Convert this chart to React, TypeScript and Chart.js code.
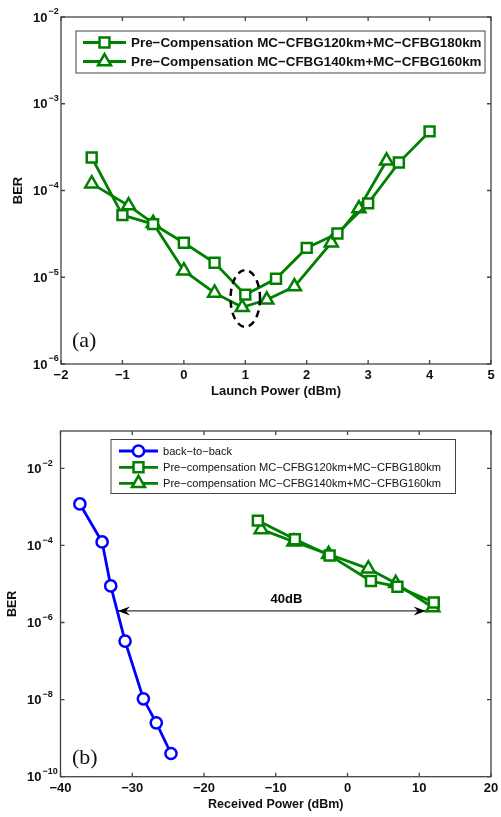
import React, { useEffect, useRef } from 'react';
import { Chart, registerables } from 'chart.js';

Chart.register(...registerables);

// ---------- Data: panel (a) ----------
const launchPower120 = [-1.5, -1, -0.5, 0, 0.5, 1, 1.5, 2, 2.5, 3, 3.5, 4];
const ber120 = [2.4e-4, 5.2e-5, 4.1e-5, 2.5e-5, 1.47e-5, 6.3e-6, 9.6e-6, 2.18e-5, 3.2e-5, 7.1e-5, 2.1e-4, 4.8e-4];
const launchPower140 = [-1.5, -0.9, -0.5, 0, 0.5, 0.95, 1.35, 1.8, 2.4, 2.85, 3.3];
const ber140 = [1.2e-4, 6.7e-5, 4.2e-5, 1.19e-5, 6.6e-6, 4.5e-6, 5.5e-6, 7.8e-6, 2.5e-5, 6.2e-5, 2.2e-4];

// ---------- Data: panel (b) ----------
const b2bPower = [-37.3, -34.2, -33.0, -31.0, -28.45, -26.65, -24.6];
const b2bBer = [1.19e-3, 1.23e-4, 8.9e-6, 3.3e-7, 1.05e-8, 2.5e-9, 4e-10];
const rx120Power = [-12.5, -7.33, -2.49, 3.27, 6.96, 12.03];
const rx120Ber = [4.4e-4, 1.44e-4, 5.5e-5, 1.19e-5, 8.5e-6, 3.3e-6];
const rx140Power = [-12.03, -7.47, -2.63, 2.9, 6.72, 11.9];
const rx140Ber = [2.6e-4, 1.25e-4, 5.9e-5, 2.5e-5, 1.04e-5, 2.45e-6];

// ---------- Ticks ----------
const topXTicks = [-2, -1, 0, 1, 2, 3, 4, 5];
const topYExps = [-6, -5, -4, -3, -2];
const botXTicks = [-40, -30, -20, -10, 0, 10, 20];
const botYExps = [-10, -8, -6, -4, -2];

// ---------- Labels ----------
const topLegend = [
  'Pre\u2212Compensation MC\u2212CFBG120km+MC\u2212CFBG180km',
  'Pre\u2212Compensation MC\u2212CFBG140km+MC\u2212CFBG160km',
];
const botLegend = [
  'back\u2212to\u2212back',
  'Pre\u2212compensation MC\u2212CFBG120km+MC\u2212CFBG180km',
  'Pre\u2212compensation MC\u2212CFBG140km+MC\u2212CFBG160km',
];

// ---------- Annotations (data coordinates) ----------
const arrowFrom = { x: -32.0, y: 2e-6 };
const arrowTo = { x: 10.9, y: 2e-6 };
const arrowLabel = { x: -8.5, y: 3.9e-6, text: '40dB' };
const ellipseBox = { x1: 0.76, x2: 1.24, yTop: 1.21e-5, yBot: 2.68e-6 };

const GREEN = 'rgb(0,128,0)';
const BLUE = 'rgb(0,0,255)';
const SANS = '"Liberation Sans", Arial, Helvetica, sans-serif';
const SERIF = '"Liberation Serif", "Times New Roman", serif';
const LW = 2.8;
const PLW = 2.5;

const fmt = (v: number) => (v < 0 ? '\u2212' + Math.abs(v) : String(v));

function drawMarker(ctx: CanvasRenderingContext2D, style: string, x: number, y: number, r: number, color: string, lw: number) {
  ctx.save();
  ctx.strokeStyle = color;
  ctx.fillStyle = '#fff';
  ctx.lineWidth = lw;
  ctx.beginPath();
  if (style === 'rect') {
    const s = Math.SQRT1_2 * r;
    ctx.rect(x - s, y - s, 2 * s, 2 * s);
  } else if (style === 'triangle') {
    let rad = 0;
    ctx.moveTo(x + Math.sin(rad) * r, y - Math.cos(rad) * r);
    rad += (2 * Math.PI) / 3;
    ctx.lineTo(x + Math.sin(rad) * r, y - Math.cos(rad) * r);
    rad += (2 * Math.PI) / 3;
    ctx.lineTo(x + Math.sin(rad) * r, y - Math.cos(rad) * r);
    ctx.closePath();
  } else {
    ctx.arc(x, y, r, 0, Math.PI * 2);
  }
  ctx.fill();
  ctx.stroke();
  ctx.restore();
}

type LegendItem = { label: string; color: string; style: string; r: number };
type PanelCfg = {
  xTicks: number[];
  yExps: number[];
  xLabelY: number;
  yLabelLeft: number;
  tickFont: number;
  supFont: number;
  xTitle: string;
  xTitleY: number;
  yTitleX: number;
  titleFont: number;
  panelTag: string;
  tagX: number;
  tagY: number;
  legend: { x: number; y: number; w: number; h: number; rows: number[]; lx1: number; lx2: number; tx: number; font: string; items: LegendItem[] };
  extra?: (chart: any, ctx: CanvasRenderingContext2D) => void;
};

function makePlugin(cfg: PanelCfg) {
  return {
    id: 'matlabAxes',
    afterDatasetsDraw(chart: any) {
      const ctx: CanvasRenderingContext2D = chart.ctx;
      const xs = chart.scales.x;
      const ys = chart.scales.y;
      const a = chart.chartArea;
      ctx.save();
      if (cfg.extra) cfg.extra(chart, ctx);

      // box
      ctx.strokeStyle = '#444';
      ctx.lineWidth = 1.3;
      ctx.strokeRect(a.left, a.top, a.right - a.left, a.bottom - a.top);
      // ticks
      ctx.beginPath();
      const tl = 4;
      for (const t of cfg.xTicks) {
        const px = xs.getPixelForValue(t);
        ctx.moveTo(px, a.bottom);
        ctx.lineTo(px, a.bottom - tl);
        ctx.moveTo(px, a.top);
        ctx.lineTo(px, a.top + tl);
      }
      for (const e of cfg.yExps) {
        const py = ys.getPixelForValue(Math.pow(10, e));
        ctx.moveTo(a.left, py);
        ctx.lineTo(a.left + tl, py);
        ctx.moveTo(a.right, py);
        ctx.lineTo(a.right - tl, py);
      }
      ctx.stroke();

      // tick labels
      ctx.fillStyle = '#111';
      ctx.font = `bold ${cfg.tickFont}px ${SANS}`;
      ctx.textAlign = 'center';
      ctx.textBaseline = 'middle';
      for (const t of cfg.xTicks) {
        ctx.fillText(fmt(t), xs.getPixelForValue(t), cfg.xLabelY);
      }
      ctx.textAlign = 'left';
      for (const e of cfg.yExps) {
        const py = ys.getPixelForValue(Math.pow(10, e));
        ctx.font = `bold ${cfg.tickFont}px ${SANS}`;
        ctx.fillText('10', cfg.yLabelLeft, py + 1);
        const w = ctx.measureText('10').width;
        ctx.font = `bold ${cfg.supFont}px ${SANS}`;
        ctx.fillText(fmt(e), cfg.yLabelLeft + w + 1, py - 5);
      }

      // axis titles
      ctx.font = `bold ${cfg.titleFont}px ${SANS}`;
      ctx.textAlign = 'center';
      ctx.fillText(cfg.xTitle, (a.left + a.right) / 2, cfg.xTitleY);
      ctx.save();
      ctx.translate(cfg.yTitleX, (a.top + a.bottom) / 2);
      ctx.rotate(-Math.PI / 2);
      ctx.fillText('BER', 0, 0);
      ctx.restore();

      // panel tag
      ctx.font = `22px ${SERIF}`;
      ctx.textAlign = 'left';
      ctx.fillText(cfg.panelTag, cfg.tagX, cfg.tagY);

      // legend
      const L = cfg.legend;
      ctx.fillStyle = '#fff';
      ctx.fillRect(L.x, L.y, L.w, L.h);
      ctx.strokeStyle = '#444';
      ctx.lineWidth = 1;
      ctx.strokeRect(L.x, L.y, L.w, L.h);
      L.items.forEach((it, i) => {
        const ry = L.rows[i];
        ctx.strokeStyle = it.color;
        ctx.lineWidth = LW;
        ctx.beginPath();
        ctx.moveTo(L.lx1, ry);
        ctx.lineTo(L.lx2, ry);
        ctx.stroke();
        drawMarker(ctx, it.style, (L.lx1 + L.lx2) / 2, ry, it.r, it.color, PLW);
        ctx.fillStyle = '#111';
        ctx.font = L.font;
        ctx.textAlign = 'left';
        ctx.textBaseline = 'middle';
        ctx.fillText(it.label, L.tx, ry + 0.5);
      });
      ctx.restore();
    },
  };
}

function pts(xsArr: number[], ysArr: number[]) {
  return xsArr.map((x, i) => ({ x, y: ysArr[i] }));
}

function ds(label: string, data: any[], color: string, style: string, r: number) {
  return {
    label,
    data,
    borderColor: color,
    borderWidth: LW,
    pointStyle: style,
    pointRadius: r,
    pointBorderWidth: PLW,
    pointBorderColor: color,
    pointBackgroundColor: '#fff',
    tension: 0,
    fill: false,
    clip: false as any,
  };
}

function Panel({ height, build }: { height: number; build: (c: HTMLCanvasElement) => Chart }) {
  const ref = useRef<HTMLCanvasElement | null>(null);
  useEffect(() => {
    if (!ref.current) return;
    const chart = build(ref.current);
    return () => chart.destroy();
  }, []);
  return <canvas ref={ref} width={501} height={height} style={{ display: 'block', width: 501, height }} />;
}

function buildTop(canvas: HTMLCanvasElement) {
  const cfg: PanelCfg = {
    xTicks: topXTicks,
    yExps: topYExps,
    xLabelY: 375,
    yLabelLeft: 33,
    tickFont: 13,
    supFont: 9,
    xTitle: 'Launch Power (dBm)',
    xTitleY: 391,
    yTitleX: 18,
    titleFont: 13,
    panelTag: '(a)',
    tagX: 72,
    tagY: 341,
    legend: {
      x: 76, y: 31, w: 409, h: 42, rows: [42.5, 61.5], lx1: 83, lx2: 126, tx: 131,
      font: `bold 13.4px ${SANS}`,
      items: [
        { label: topLegend[0], color: GREEN, style: 'rect', r: 7 },
        { label: topLegend[1], color: GREEN, style: 'triangle', r: 7.5 },
      ],
    },
    extra: (chart, ctx) => {
      const xs = chart.scales.x;
      const ys = chart.scales.y;
      const x1 = xs.getPixelForValue(ellipseBox.x1);
      const x2 = xs.getPixelForValue(ellipseBox.x2);
      const y1 = ys.getPixelForValue(ellipseBox.yTop);
      const y2 = ys.getPixelForValue(ellipseBox.yBot);
      ctx.save();
      ctx.strokeStyle = '#000';
      ctx.lineWidth = 2.5;
      ctx.setLineDash([7, 5]);
      ctx.beginPath();
      ctx.ellipse((x1 + x2) / 2, (y1 + y2) / 2, Math.abs(x2 - x1) / 2, Math.abs(y2 - y1) / 2, 0, 0, Math.PI * 2);
      ctx.stroke();
      ctx.restore();
    },
  };
  return new Chart(canvas, {
    type: 'line',
    data: {
      datasets: [
        ds(topLegend[0], pts(launchPower120, ber120), GREEN, 'rect', 7),
        ds(topLegend[1], pts(launchPower140, ber140), GREEN, 'triangle', 7.5),
      ],
    },
    options: {
      responsive: false,
      animation: false,
      devicePixelRatio: 1,
      events: [],
      layout: { padding: { left: 61, right: 6.5, top: 17, bottom: 36 } },
      plugins: { legend: { display: false }, tooltip: { enabled: false } },
      scales: {
        x: { type: 'linear', min: -2, max: 5, display: false },
        y: { type: 'logarithmic', min: 1e-6, max: 1e-2, display: false },
      },
    },
    plugins: [makePlugin(cfg) as any],
  } as any);
}

function buildBottom(canvas: HTMLCanvasElement) {
  const cfg: PanelCfg = {
    xTicks: botXTicks,
    yExps: botYExps,
    xLabelY: 388,
    yLabelLeft: 27,
    tickFont: 13,
    supFont: 9,
    xTitle: 'Received Power (dBm)',
    xTitleY: 404.5,
    yTitleX: 13,
    titleFont: 12.5,
    panelTag: '(b)',
    tagX: 72,
    tagY: 358,
    legend: {
      x: 111, y: 39.5, w: 344.5, h: 54, rows: [51, 67.3, 83.3], lx1: 119, lx2: 158, tx: 163,
      font: `11.1px ${SANS}`,
      items: [
        { label: botLegend[0], color: BLUE, style: 'circle', r: 5.6 },
        { label: botLegend[1], color: GREEN, style: 'rect', r: 7 },
        { label: botLegend[2], color: GREEN, style: 'triangle', r: 7.5 },
      ],
    },
    extra: (chart, ctx) => {
      const xs = chart.scales.x;
      const ys = chart.scales.y;
      const ax = xs.getPixelForValue(arrowFrom.x);
      const bx = xs.getPixelForValue(arrowTo.x);
      const ay = ys.getPixelForValue(arrowFrom.y);
      ctx.save();
      ctx.strokeStyle = '#000';
      ctx.fillStyle = '#000';
      ctx.lineWidth = 1;
      ctx.beginPath();
      ctx.moveTo(ax, ay);
      ctx.lineTo(bx, ay);
      ctx.stroke();
      const head = (tipX: number, dir: number) => {
        ctx.beginPath();
        ctx.moveTo(tipX, ay);
        ctx.lineTo(tipX + dir * 12, ay - 4.5);
        ctx.lineTo(tipX + dir * 8, ay);
        ctx.lineTo(tipX + dir * 12, ay + 4.5);
        ctx.closePath();
        ctx.fill();
      };
      head(ax, 1);
      head(bx, -1);
      ctx.font = `bold 13px ${SANS}`;
      ctx.textAlign = 'center';
      ctx.textBaseline = 'middle';
      ctx.fillText(arrowLabel.text, xs.getPixelForValue(arrowLabel.x), ys.getPixelForValue(arrowLabel.y));
      ctx.restore();
    },
  };
  return new Chart(canvas, {
    type: 'line',
    data: {
      datasets: [
        ds(botLegend[0], pts(b2bPower, b2bBer), BLUE, 'circle', 5.6),
        ds(botLegend[1], pts(rx120Power, rx120Ber), GREEN, 'rect', 7),
        ds(botLegend[2], pts(rx140Power, rx140Ber), GREEN, 'triangle', 7.5),
      ],
    },
    options: {
      responsive: false,
      animation: false,
      devicePixelRatio: 1,
      events: [],
      layout: { padding: { left: 60.5, right: 6, top: 31, bottom: 40.3 } },
      plugins: { legend: { display: false }, tooltip: { enabled: false } },
      scales: {
        x: { type: 'linear', min: -40, max: 20, display: false },
        y: { type: 'logarithmic', min: 1e-10, max: 0.093, display: false },
      },
    },
    plugins: [makePlugin(cfg) as any],
  } as any);
}

export default function App() {
  return (
    <div style={{ position: 'absolute', left: 0, top: 0, width: 501, height: 817, background: '#fff' }}>
      <Panel height={400} build={buildTop} />
      <Panel height={417} build={buildBottom} />
    </div>
  );
}
